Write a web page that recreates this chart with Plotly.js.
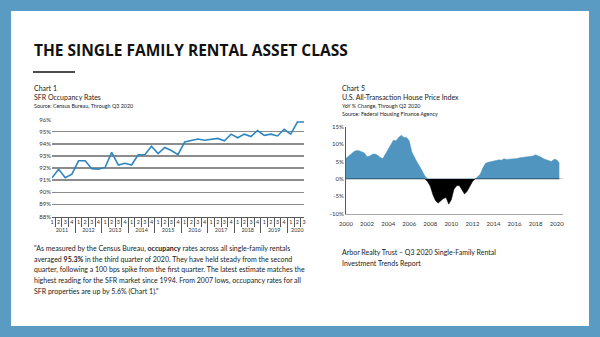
<!DOCTYPE html>
<html><head><meta charset="utf-8">
<script src="https://cdn.plot.ly/plotly-3.0.1.min.js"></script>
<style>html,body{margin:0;padding:0;background:#fff;overflow:hidden}#c{width:600px;height:337px}</style>
</head><body><div id="c"></div><script>
// ---- Chart 1 data: SFR occupancy rates (quarterly, %)
const sfrYears = ['2011','2012','2013','2014','2015','2016','2017','2018','2019','2020'];
const sfrQuarterCounts = [4,4,4,4,4,4,4,4,4,3];
const sfrQuarterLabels = ['1','2','3','4'];
const sfrRate = [
  91.2, 91.9, 91.2, 91.5,
  92.6, 92.6, 91.95, 91.9,
  92.05, 93.3, 92.25, 92.4,
  92.25, 93.1, 93.1, 93.8,
  93.2, 93.7, 93.45, 93.1,
  94.15, 94.3, 94.4, 94.3,
  94.35, 94.45, 94.25, 94.8,
  94.5, 94.8, 94.6, 95.1,
  94.7, 94.8, 94.65, 95.2,
  94.8, 95.8, 95.8
];
const chart1YTicks = [88,89,90,91,92,93,94,95,96];
const chart1YLabels = ['88%','89%','90%','91%','92%','93%','94%','95%','96%'];

// ---- Chart 5 data: FHFA all-transaction HPI, YoY % change, 2000Q1..2020Q2
const hpiStartYear = 2000;
const hpiChange = [
  6.0, 6.5, 7.2, 7.9,
  8.2, 8.1, 7.9, 7.5,
  6.4, 6.6, 7.1, 7.2,
  6.8, 6.2, 5.9, 7.2,
  8.3, 9.5, 11.2, 11.0,
  12.0, 12.6, 12.0, 12.0,
  11.0, 7.8, 6.2, 4.8,
  3.6, 2.2, 0.8, -0.8,
  -2.1, -4.6, -6.3, -7.0,
  -6.2, -5.7, -5.4, -7.3,
  -6.0, -3.0, -2.0, -1.9,
  -3.1, -4.4, -3.6, -2.0,
  -0.8, 0.0, 0.6, 1.4,
  3.2, 4.5, 4.8, 4.9,
  5.0, 5.3, 5.5, 5.4,
  5.8, 5.6, 5.7, 5.7,
  5.7, 5.9, 6.1, 6.2,
  6.3, 6.5, 6.5, 6.6,
  7.0, 6.7, 6.3, 5.8,
  5.6, 5.2, 5.0, 5.7,
  5.5, 4.6
];
const chart5YTicks = [-10,-5,0,5,10,15];
const chart5YLabels = ['-10%','-5%','0%','5%','10%','15%'];
const chart5XTicks = [2000,2002,2004,2006,2008,2010,2012,2014,2016,2018,2020];

// ---- helpers
const W = 600, H = 337;
const px = x => x / W, py = y => 1 - y / H;
const FONT = 'Lato';
const TXT = '#1a1a1a';

const outer = [], inner = [];
sfrYears.forEach((y, i) => {
  for (let q = 0; q < sfrQuarterCounts[i]; q++) { outer.push(y); inner.push(sfrQuarterLabels[q]); }
});
const hpiX = hpiChange.map((_, i) => hpiStartYear + i / 4);

const traces = [
  { x: [outer, inner], y: sfrRate, type: 'scatter', mode: 'lines', xaxis: 'x', yaxis: 'y',
    line: { color: '#2E86C1', width: 1.6 }, hoverinfo: 'skip' },
  { x: hpiX, y: hpiChange.map(v => Math.max(v, 0)), type: 'scatter', mode: 'lines', xaxis: 'x2', yaxis: 'y2',
    fill: 'tozeroy', fillcolor: '#4F95C0', line: { color: '#4F95C0', width: 0.5 }, hoverinfo: 'skip' },
  { x: hpiX, y: hpiChange.map(v => Math.min(v, 0)), type: 'scatter', mode: 'lines', xaxis: 'x2', yaxis: 'y2',
    fill: 'tozeroy', fillcolor: '#000000', line: { color: '#000000', width: 0.5 }, hoverinfo: 'skip' }
];

function ann(text, x, y, size, extra) {
  return Object.assign({ text, xref: 'paper', yref: 'paper', x: px(x), y: py(y), xanchor: 'left', yanchor: 'middle',
    showarrow: false, font: { family: FONT, size, color: TXT } }, extra || {});
}

const para = [
  '"As measured by the Census Bureau, <b>occupancy</b> rates across all single-family rentals',
  'averaged <b>95.3%</b> in the third quarter of 2020. They have held steady from the second',
  'quarter, following a 100 bps spike from the first quarter. The latest estimate matches the',
  'highest reading for the SFR market since 1994. From 2007 lows, occupancy rates for all',
  'SFR properties are up by 5.6% (Chart 1)."'
];

const annotations = [
  ann('<b>THE SINGLE FAMILY RENTAL ASSET CLASS</b>', 32, 50, 15.5, { font: { family: 'Open Sans', size: 15.5, color: '#111' } }),
  ann('Chart 1', 32, 88, 7),
  ann('SFR Occupancy Rates', 32, 97, 7),
  ann('Source: Census Bureau, Through Q3 2020', 32, 105.5, 5.4),
  ann('Chart 5', 340, 88, 7),
  ann('U.S. All-Transaction House Price Index', 340, 97, 7),
  ann('YoY % Change, Through Q2 2020', 340, 106, 5.4),
  ann('Source: Federal Housing Finance Agency', 340, 114, 5.4),
  ann('Arbor Realty Trust – Q3 2020 Single-Family Rental', 340, 252, 7),
  ann('Investment Trends Report', 340, 263, 7)
];
para.forEach((t, i) => annotations.push(ann(t, 32, 248 + i * 10.8, 7)));

const layout = {
  width: W, height: H,
  margin: { l: 0, r: 0, t: 0, b: 0 },
  paper_bgcolor: '#ffffff', plot_bgcolor: 'rgba(0,0,0,0)',
  showlegend: false,
  font: { family: FONT, color: '#333' },
  xaxis: {
    domain: [px(52), px(304)], anchor: 'y', type: 'multicategory',
    tickmode: 'linear', tick0: 0, dtick: 1,
    showline: true, linecolor: '#595959', linewidth: 1,
    ticks: 'outside', tickson: 'boundaries', ticklen: 9, tickcolor: '#595959', tickwidth: 1, tickangle: 0,
    showdividers: true, dividercolor: '#595959', dividerwidth: 1,
    showgrid: false, zeroline: false, tickfont: { family: FONT, size: 5.4, color: '#333' }, fixedrange: true
  },
  yaxis: {
    domain: [py(216.5), py(119)], anchor: 'x', range: [88, 96.05],
    tickvals: chart1YTicks, ticktext: chart1YLabels, showgrid: true, gridcolor: '#8c8c8c', gridwidth: 1.5,
    zeroline: false, showline: false, ticks: '', tickfont: { family: FONT, size: 6, color: '#333' }, fixedrange: true
  },
  xaxis2: {
    domain: [px(346), px(563)], anchor: 'y2', range: [2000, 2020.6],
    tickvals: chart5XTicks, tickformat: 'd', showline: true, linecolor: '#a6a6a6', linewidth: 1,
    showgrid: false, zeroline: false, ticks: 'outside', ticklen: 4, tickcolor: 'rgba(0,0,0,0)',
    tickfont: { family: FONT, size: 6, color: '#333' }, fixedrange: true
  },
  yaxis2: {
    domain: [py(213.5), py(127)], anchor: 'x2', range: [-10, 15],
    tickvals: chart5YTicks, ticktext: chart5YLabels, showline: true, linecolor: '#595959', linewidth: 1,
    showgrid: false, zeroline: true, zerolinecolor: '#d0d0d0', zerolinewidth: 1,
    ticks: '', tickfont: { family: FONT, size: 6, color: '#333' }, fixedrange: true
  },
  shapes: [
    { type: 'rect', xref: 'paper', yref: 'paper', x0: 0, x1: 1, y0: 0, y1: 1,
      line: { color: '#5A9BC4', width: 22 }, fillcolor: 'rgba(0,0,0,0)' },
    { type: 'line', xref: 'paper', yref: 'paper', x0: px(33), x1: px(75), y0: py(72), y1: py(72),
      line: { color: '#111', width: 1.5 } }
  ],
  annotations
};

Plotly.newPlot('c', traces, layout, { staticPlot: true, displayModeBar: false });
</script></body></html>
